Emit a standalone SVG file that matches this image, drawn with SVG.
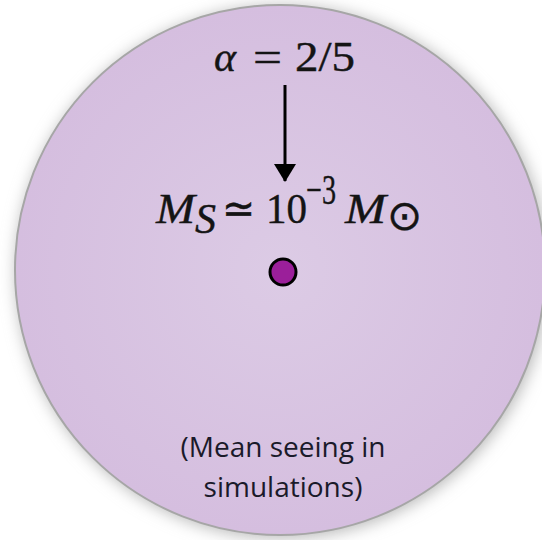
<svg xmlns="http://www.w3.org/2000/svg" width="542" height="540" viewBox="0 0 542 540">
<defs>
<radialGradient id="fill" cx="280" cy="270" r="265" gradientUnits="userSpaceOnUse">
<stop offset="0" stop-color="#dccbe5"/>
<stop offset="1" stop-color="#d5bedf"/>
</radialGradient>
<filter id="sh" x="-20%" y="-20%" width="140%" height="140%">
<feGaussianBlur stdDeviation="8"/>
</filter>
<marker id="ah" markerWidth="18" markerHeight="22" refX="17" refY="11" orient="auto" markerUnits="userSpaceOnUse" viewBox="0 0 18 22">
<path d="M0,0 L18,11 L0,22 Z" fill="#000"/>
</marker>
<style>
.m{font-family:"Liberation Serif","Times New Roman",serif;font-size:42px;fill:#141414;stroke:#141414;stroke-width:0.4}
.i{font-style:italic}
.c{font-family:"Open Sans","Noto Sans",sans-serif;font-size:28px;fill:#1a1a2a;text-anchor:middle}
</style>
</defs>
<rect width="542" height="540" fill="#ffffff"/>
<circle cx="282" cy="272" r="266" fill="#b8b8b8" filter="url(#sh)"/>
<g id="disk">
<circle cx="280" cy="270" r="265" fill="url(#fill)" stroke="#a6a6a6" stroke-width="2"/>
</g>
<g id="alpha">
<text class="m i" x="214" y="71">α</text>
<text class="m" x="253" y="71" textLength="29" lengthAdjust="spacingAndGlyphs">=</text>
<text class="m" x="295" y="71" textLength="60" lengthAdjust="spacingAndGlyphs">2/5</text>
</g>
<g id="connectors">
<line x1="285" y1="85" x2="285" y2="181" stroke="#000" stroke-width="3" marker-end="url(#ah)"/>
</g>
<g id="mass">
<text class="m i" x="156" y="223" font-size="45" textLength="39" lengthAdjust="spacingAndGlyphs">M</text>
<text class="m i" x="195" y="233" font-size="29">S</text>
<text class="m" x="222" y="223" font-size="45" textLength="33" lengthAdjust="spacingAndGlyphs">≃</text>
<text class="m" x="266" y="223" font-size="45" textLength="41" lengthAdjust="spacingAndGlyphs">10</text>
<text class="m" x="306" y="204" font-size="28" textLength="30" lengthAdjust="spacingAndGlyphs">−3</text>
<text class="m i" x="345" y="223" font-size="45" textLength="41" lengthAdjust="spacingAndGlyphs">M</text>
<text class="m" x="387" y="230" font-size="17" font-family="DejaVu Sans, sans-serif" stroke-width="0.2">⊙</text>
</g>
<g id="source">
<circle cx="283" cy="272" r="13" fill="#9b1f9a" stroke="#000" stroke-width="3"/>
</g>
<g id="caption">
<text class="c" x="283" y="457">(Mean seeing in</text>
<text class="c" x="283" y="497">simulations)</text>
</g>
</svg>
